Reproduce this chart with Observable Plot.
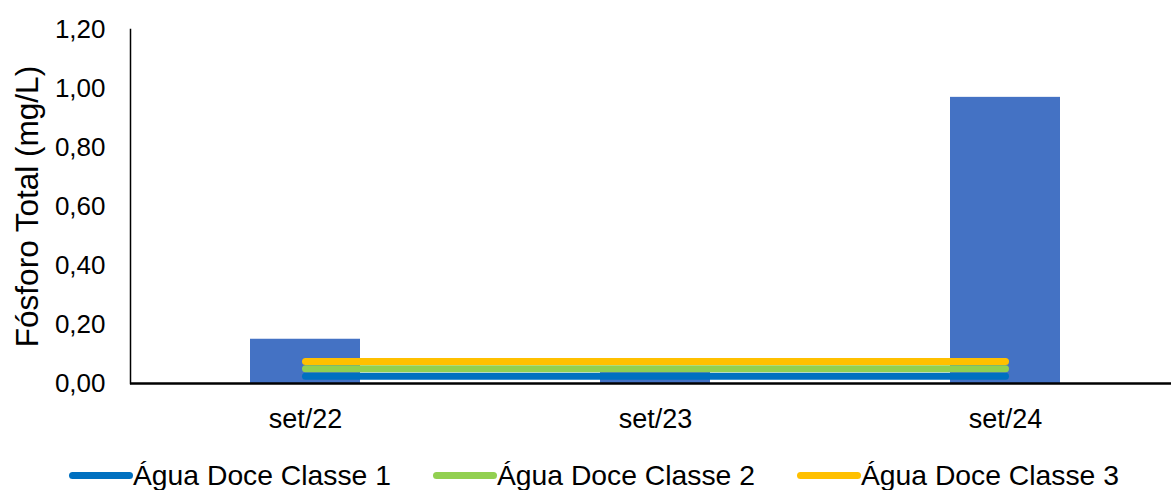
<!DOCTYPE html>
<html>
<head>
<meta charset="utf-8">
<script src="https://cdn.jsdelivr.net/npm/d3@7"></script>
<script src="https://cdn.jsdelivr.net/npm/@observablehq/plot@0.6"></script>
<style>
  body { margin: 0; background: #fff; font-family: "Liberation Sans", Arial, sans-serif; }
  #legend { display: flex; align-items: center; height: 45px; margin-top: 8px; padding-left: 69px; gap: 42px; font-size: 28.3px; color: #000; }
  .item { display: flex; align-items: center; }
  .sw { width: 64px; height: 7px; border-radius: 4px; }
</style>
</head>
<body>
<div id="chart"></div>
<div id="legend"></div>
<script>
const categories = ["set/22", "set/23", "set/24"];
const fosforo = [0.15, 0.04, 0.97];
const series = ["Água Doce Classe 1", "Água Doce Classe 2", "Água Doce Classe 3"];
const limits = [0.025, 0.05, 0.075];
const colors = ["#0070C0", "#92D050", "#FFC000"];
const yTicks = [0, 0.2, 0.4, 0.6, 0.8, 1.0, 1.2];

const bars = categories.map((c, i) => ({cat: c, value: fosforo[i]}));
const lines = series.flatMap((s, j) => categories.map(c => ({cat: c, serie: s, value: limits[j]})));

const fmt = d => d.toFixed(2).replace(".", ",");

const plot = Plot.plot({
  width: 1171,
  height: 445,
  marginLeft: 130,
  marginRight: 0,
  marginTop: 29,
  marginBottom: 62,
  style: {fontFamily: "Liberation Sans, Arial, sans-serif", color: "#000", background: "#fff"},
  x: {type: "band", domain: categories, range: [130, 1180], paddingInner: 0.686, paddingOuter: 0.343, label: null},
  y: {domain: [0, 1.2], label: null},
  color: {domain: series, range: colors},
  marks: [
    Plot.barY(bars, {x: "cat", y: "value", fill: "#4472C4"}),
    Plot.lineY(lines, {x: "cat", y: "value", z: "serie", stroke: "serie", strokeWidth: 7, strokeLinecap: "round"}),
    Plot.axisY({ticks: yTicks, tickFormat: fmt, tickSize: 0, tickPadding: 25, fontSize: 26, label: null}),
    Plot.axisX({tickSize: 0, tickPadding: 25, fontSize: 27, label: null}),
    Plot.frame({anchor: "left", stroke: "#000", strokeWidth: 1.5}),
    Plot.ruleY([0], {stroke: "#000", strokeWidth: 2.5}),
    Plot.text(["Fósforo Total (mg/L)"], {frameAnchor: "left", dx: -103, rotate: -90, textAnchor: "middle", lineAnchor: "middle", fontSize: 31.5, fill: "#000"})
  ]
});
document.getElementById("chart").appendChild(plot);

const legend = document.getElementById("legend");
series.forEach((s, i) => {
  const item = document.createElement("div");
  item.className = "item";
  const sw = document.createElement("span");
  sw.className = "sw";
  sw.style.background = colors[i];
  const t = document.createElement("span");
  t.textContent = s;
  item.appendChild(sw);
  item.appendChild(t);
  legend.appendChild(item);
});
</script>
</body>
</html>
